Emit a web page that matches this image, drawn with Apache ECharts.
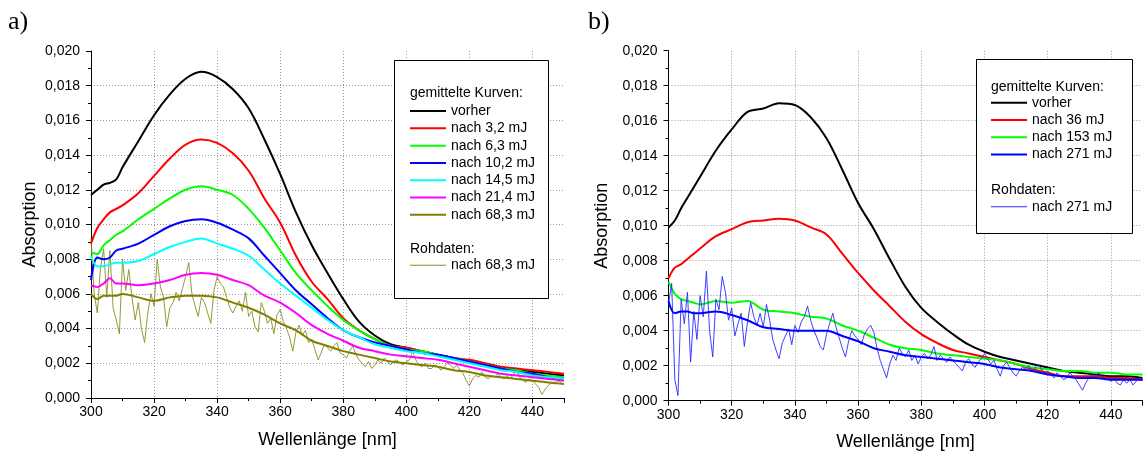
<!DOCTYPE html>
<html><head><meta charset="utf-8">
<script src="https://cdn.jsdelivr.net/npm/echarts@6/dist/echarts.min.js"></script>
<style>html,body{margin:0;padding:0;background:#fff}#c{width:1143px;height:459px}</style>
</head><body><div id="c"></div>
<script>
// ---------- data ----------
const WL = [300,302,304,306,308,310,315,320,325,330,335,340,345,350,355,360,365,370,375,380,385,390,395,400,405,410,415,420,425,430,435,440,445,450];

// panel a) averaged curves
const A_VORHER = [0.0117,0.0120,0.0123,0.0124,0.0126,0.0133,0.0148,0.0163,0.0175,0.0184,0.0188,0.0185,0.0178,0.0167,0.0149,0.0129,0.0107,0.0088,0.0072,0.0057,0.0044,0.0036,0.0031,0.0029,0.0027,0.0025,0.0023,0.0021,0.0019,0.0017,0.0016,0.0015,0.0014,0.0013];
const A_3_2  = [0.0089,0.0098,0.0103,0.0107,0.0109,0.0111,0.0118,0.0128,0.0138,0.0146,0.0149,0.0147,0.0141,0.0131,0.0115,0.0101,0.0082,0.0067,0.0057,0.0046,0.0039,0.0034,0.0030,0.0029,0.0027,0.0025,0.0023,0.0022,0.0020,0.0018,0.0017,0.0016,0.0015,0.0014];
const A_6_3  = [0.0084,0.0083,0.0088,0.0091,0.0094,0.0096,0.0103,0.0109,0.0115,0.0120,0.0122,0.0120,0.0117,0.0109,0.0098,0.0085,0.0072,0.0062,0.0053,0.0045,0.0039,0.0034,0.0030,0.0028,0.0027,0.0025,0.0023,0.0021,0.0019,0.0017,0.0016,0.0014,0.0013,0.0012];
const A_10_2 = [0.0068,0.0081,0.0080,0.0081,0.0085,0.0086,0.0089,0.0094,0.0099,0.0102,0.0103,0.0101,0.0097,0.0092,0.0082,0.0072,0.0062,0.0054,0.0046,0.0039,0.0035,0.0032,0.0030,0.0028,0.0026,0.0025,0.0023,0.0021,0.0019,0.0017,0.0015,0.0014,0.0012,0.0011];
const A_14_5 = [0.0082,0.0076,0.0076,0.0077,0.0078,0.0078,0.0079,0.0083,0.0087,0.0090,0.0092,0.0089,0.0086,0.0082,0.0074,0.0066,0.0059,0.0052,0.0045,0.0039,0.0035,0.0031,0.0029,0.0027,0.0026,0.0024,0.0022,0.0020,0.0018,0.0016,0.0015,0.0013,0.0012,0.0011];
const A_21_4 = [0.0065,0.0064,0.0066,0.0069,0.0066,0.0066,0.0065,0.0066,0.0068,0.0071,0.0072,0.0071,0.0068,0.0065,0.0059,0.0055,0.0049,0.0042,0.0037,0.0033,0.0029,0.0027,0.0025,0.0024,0.0023,0.0022,0.0020,0.0018,0.0016,0.0014,0.0013,0.0012,0.0011,0.0010];
const A_68_3 = [0.0060,0.0057,0.0059,0.0059,0.0059,0.0060,0.0058,0.0056,0.0058,0.0059,0.0059,0.0058,0.0055,0.0052,0.0048,0.0043,0.0039,0.0033,0.0030,0.0027,0.0025,0.0023,0.0021,0.0020,0.0019,0.0018,0.0016,0.0015,0.0013,0.0012,0.0011,0.0010,0.0009,0.0008];

// panel a) raw data, 300..450 nm in 1 nm steps
const A_RAW_68_3 = [
0.0092,0.0060,0.0049,0.0075,0.0086,0.0058,0.0085,0.0052,0.0045,0.0037,
0.0080,0.0062,0.0074,0.0058,0.0045,0.0055,0.0040,0.0032,0.0049,0.0060,
0.0053,0.0080,0.0064,0.0058,0.0041,0.0052,0.0055,0.0061,0.0056,0.0063,
0.0070,0.0078,0.0060,0.0053,0.0047,0.0058,0.0055,0.0049,0.0043,0.0062,
0.0070,0.0066,0.0064,0.0058,0.0052,0.0049,0.0053,0.0056,0.0050,0.0061,
0.0047,0.0050,0.0041,0.0038,0.0055,0.0050,0.0043,0.0046,0.0037,0.0048,
0.0051,0.0044,0.0040,0.0035,0.0027,0.0038,0.0042,0.0036,0.0039,0.0032,
0.0034,0.0028,0.0022,0.0026,0.0031,0.0029,0.0027,0.0030,0.0032,0.0026,
0.0025,0.0023,0.0027,0.0030,0.0025,0.0022,0.0020,0.0018,0.0021,0.0017,
0.0019,0.0022,0.0020,0.0023,0.0021,0.0019,0.0021,0.0022,0.0020,0.0019,
0.0021,0.0022,0.0027,0.0022,0.0019,0.0018,0.0020,0.0017,0.0017,0.0019,
0.0018,0.0016,0.0018,0.0020,0.0019,0.0017,0.0019,0.0016,0.0014,0.0010,
0.0007,0.0011,0.0013,0.0012,0.0015,0.0012,0.0011,0.0013,0.0012,0.0014,
0.0012,0.0011,0.0013,0.0011,0.0014,0.0015,0.0012,0.0010,0.0009,0.0011,
0.0010,0.0008,0.0006,0.0002,0.0005,0.0007,0.0009,0.0008,0.0010,0.0009,
0.0008];

// panel b) averaged curves
const B_VORHER = [0.0099,0.0103,0.0110,0.0116,0.0122,0.0128,0.0143,0.0155,0.0165,0.0167,0.0170,0.0169,0.0162,0.0150,0.0132,0.0113,0.0098,0.0081,0.0065,0.0053,0.0045,0.0038,0.0032,0.0028,0.0025,0.0023,0.0021,0.0019,0.0017,0.0016,0.0015,0.0014,0.0014,0.0013];
const B_36   = [0.0070,0.0076,0.0078,0.0081,0.0084,0.0087,0.0094,0.0098,0.0102,0.0103,0.0104,0.0103,0.0099,0.0095,0.0084,0.0073,0.0063,0.0054,0.0045,0.0038,0.0033,0.0029,0.0027,0.0025,0.0023,0.0021,0.0018,0.0016,0.0014,0.0014,0.0014,0.0013,0.0013,0.0012];
const B_153  = [0.0068,0.0061,0.0058,0.0057,0.0056,0.0055,0.0057,0.0056,0.0057,0.0052,0.0051,0.0050,0.0048,0.0047,0.0043,0.0040,0.0036,0.0032,0.0030,0.0029,0.0027,0.0026,0.0025,0.0024,0.0023,0.0021,0.0019,0.0018,0.0017,0.0017,0.0016,0.0016,0.0015,0.0015];
const B_271  = [0.0057,0.0050,0.0051,0.0051,0.0050,0.0050,0.0051,0.0049,0.0046,0.0042,0.0041,0.0040,0.0040,0.0040,0.0037,0.0034,0.0030,0.0028,0.0026,0.0025,0.0024,0.0023,0.0022,0.0021,0.0019,0.0018,0.0017,0.0015,0.0014,0.0013,0.0013,0.0012,0.0012,0.0012];

// panel b) raw data, 300..450 nm in 1 nm steps
const B_RAW_271 = [
0.0055,0.0067,0.0012,0.0003,0.0058,0.0044,0.0062,0.0022,0.0051,0.0035,
0.0060,0.0048,0.0074,0.0040,0.0025,0.0058,0.0052,0.0071,0.0062,0.0046,
0.0053,0.0037,0.0044,0.0050,0.0031,0.0045,0.0056,0.0048,0.0043,0.0050,
0.0042,0.0055,0.0046,0.0035,0.0029,0.0024,0.0033,0.0037,0.0041,0.0032,
0.0043,0.0039,0.0045,0.0048,0.0054,0.0046,0.0040,0.0036,0.0031,0.0029,
0.0038,0.0044,0.0050,0.0042,0.0036,0.0030,0.0025,0.0034,0.0040,0.0037,
0.0035,0.0032,0.0038,0.0041,0.0043,0.0039,0.0030,0.0023,0.0018,0.0013,
0.0021,0.0026,0.0023,0.0030,0.0027,0.0025,0.0029,0.0023,0.0026,0.0021,
0.0025,0.0027,0.0024,0.0026,0.0031,0.0023,0.0026,0.0024,0.0022,0.0025,
0.0023,0.0021,0.0019,0.0017,0.0022,0.0024,0.0021,0.0019,0.0022,0.0024,
0.0027,0.0024,0.0021,0.0023,0.0018,0.0014,0.0020,0.0022,0.0019,0.0016,
0.0014,0.0017,0.0019,0.0018,0.0020,0.0017,0.0019,0.0021,0.0018,0.0016,
0.0017,0.0015,0.0013,0.0016,0.0014,0.0012,0.0013,0.0016,0.0014,0.0012,
0.0009,0.0006,0.0010,0.0013,0.0015,0.0013,0.0016,0.0014,0.0012,0.0013,
0.0011,0.0013,0.0010,0.0009,0.0012,0.0010,0.0012,0.0009,0.0011,0.0013,
0.0012];

const RAW_WL = [];
for (let w = 300; w <= 450; w++) RAW_WL.push(w);

const X_NAME = 'Wellenlänge [nm]';
const Y_NAME = 'Absorption';

// ---------- chart ----------
const FONT = '"Liberation Sans", Arial, sans-serif';
const pair = (xs, ys) => xs.map((x, i) => [x, ys[i]]);

function smooth(id, name, gi, color, vals) {
  return { id, name, type: 'line', xAxisIndex: gi, yAxisIndex: gi, data: pair(WL, vals),
    showSymbol: false, symbol: 'none', smooth: 0.35, color,
    lineStyle: { color, width: 2 }, z: 3 };
}
function raw(id, name, gi, color, vals) {
  return { id, name, type: 'line', xAxisIndex: gi, yAxisIndex: gi, data: pair(RAW_WL, vals),
    showSymbol: false, symbol: 'none', color,
    lineStyle: { color, width: 0.9 }, z: 2 };
}

function xAxis(gi, nameGap) {
  return { type: 'value', gridIndex: gi, min: 300, max: 450, interval: 20,
    name: X_NAME, nameLocation: 'middle', nameGap,
    nameTextStyle: { fontSize: 18, fontFamily: FONT, color: '#000' },
    axisLine: { onZero: false, lineStyle: { color: '#000', width: 1 } },
    axisTick: { inside: false, length: 5, lineStyle: { color: '#000' } },
    minorTick: { show: true, splitNumber: 2, length: 3, lineStyle: { color: '#000' } },
    axisLabel: { fontSize: 14, fontFamily: FONT, color: '#000', margin: 7, showMaxLabel: false },
    splitLine: { show: true, showMinLine: false, showMaxLine: false,
      lineStyle: { color: '#9a9a9a', type: [1, 2], width: 1 } } };
}
function yAxis(gi, nameGap) {
  return { type: 'value', gridIndex: gi, min: 0, max: 0.02, interval: 0.002,
    name: Y_NAME, nameLocation: 'middle', nameGap, nameRotate: 90,
    nameTextStyle: { fontSize: 18, fontFamily: FONT, color: '#000' },
    axisLine: { show: true, onZero: false, lineStyle: { color: '#000', width: 1 } },
    axisTick: { show: true, inside: false, length: 5, lineStyle: { color: '#000' } },
    minorTick: { show: true, splitNumber: 2, length: 3, lineStyle: { color: '#000' } },
    axisLabel: { fontSize: 14, fontFamily: FONT, color: '#000', margin: 11,
      formatter: v => v.toFixed(3).replace('.', ',') },
    splitLine: { show: true, showMinLine: false, showMaxLine: false,
      lineStyle: { color: '#9a9a9a', type: [1, 2], width: 1 } } };
}

const strip = n => n.replace(/^[ab]\w*\|/, '');
function legend(left, top, names, h) {
  return { left, top, orient: 'vertical', padding: 0, itemGap: 0, itemWidth: 36, itemHeight: h,
    icon: 'rect', data: names, formatter: strip, selectedMode: false, z: 20,
    textStyle: { fontSize: 14, fontFamily: FONT, color: '#000', lineHeight: 17.3, padding: [0, 0, 0, 0] } };
}
function txt(x, y, text, size, family) {
  return { type: 'text', x, y, z: 15,
    style: { text, fontSize: size, fontFamily: family || FONT, fill: '#000', verticalAlign: 'middle', align: 'left' } };
}

const option = {
  animation: false,
  backgroundColor: '#fff',
  grid: [
    { left: 91, top: 51, width: 473, height: 347 },
    { left: 668.5, top: 50.7, width: 474, height: 350 }
  ],
  xAxis: [xAxis(0, 33), xAxis(1, 32)],
  yAxis: [yAxis(0, 52), yAxis(1, 57)],
  legend: [
    legend(410, 102.4, ['a|vorher', 'a|nach 3,2 mJ', 'a|nach 6,3 mJ', 'a|nach 10,2 mJ', 'a|nach 14,5 mJ', 'a|nach 21,4 mJ', 'a|nach 68,3 mJ'], 2),
    legend(410, 256.5, ['araw|nach 68,3 mJ'], 1),
    legend(991, 94, ['b|vorher', 'b|nach 36 mJ', 'b|nach 153 mJ', 'b|nach 271 mJ'], 2),
    legend(991, 198, ['braw|nach 271 mJ'], 1)
  ],
  graphic: [
    { type: 'rect', z: 10, shape: { x: 394.5, y: 60.5, width: 154, height: 238 },
      style: { fill: '#fff', stroke: '#000', lineWidth: 1 } },
    { type: 'rect', z: 10, shape: { x: 976.5, y: 59.5, width: 156, height: 174 },
      style: { fill: '#fff', stroke: '#000', lineWidth: 1 } },
    txt(410, 93, 'gemittelte Kurven:', 14),
    txt(410, 249.5, 'Rohdaten:', 14),
    txt(991, 87, 'gemittelte Kurven:', 14),
    txt(991, 190, 'Rohdaten:', 14),
    txt(8, 22, 'a)', 26, '"Liberation Serif", "Times New Roman", serif'),
    txt(588, 22, 'b)', 26, '"Liberation Serif", "Times New Roman", serif')
  ],
  series: [
    raw('araw', 'araw|nach 68,3 mJ', 0, '#8c8c20', A_RAW_68_3),
    smooth('a0', 'a|vorher', 0, '#000000', A_VORHER),
    smooth('a1', 'a|nach 3,2 mJ', 0, '#ff0000', A_3_2),
    smooth('a2', 'a|nach 6,3 mJ', 0, '#00ff00', A_6_3),
    smooth('a3', 'a|nach 10,2 mJ', 0, '#0000ff', A_10_2),
    smooth('a4', 'a|nach 14,5 mJ', 0, '#00ffff', A_14_5),
    smooth('a5', 'a|nach 21,4 mJ', 0, '#ff00ff', A_21_4),
    smooth('a6', 'a|nach 68,3 mJ', 0, '#808000', A_68_3),
    smooth('b0', 'b|vorher', 1, '#000000', B_VORHER),
    smooth('b1', 'b|nach 36 mJ', 1, '#ff0000', B_36),
    smooth('b2', 'b|nach 153 mJ', 1, '#00ff00', B_153),
    raw('braw', 'braw|nach 271 mJ', 1, '#2a2aff', B_RAW_271),
    smooth('b3', 'b|nach 271 mJ', 1, '#0000ff', B_271)
  ]
};
// raw blue above green but below smooth blue
option.series.find(s => s.id === 'braw').z = 3;
option.series.find(s => s.id === 'b3').z = 4;
option.series.find(s => s.id === 'a6').z = 4;

const chart = echarts.init(document.getElementById('c'), null, { renderer: 'canvas' });
chart.setOption(option);
</script>
</body></html>
